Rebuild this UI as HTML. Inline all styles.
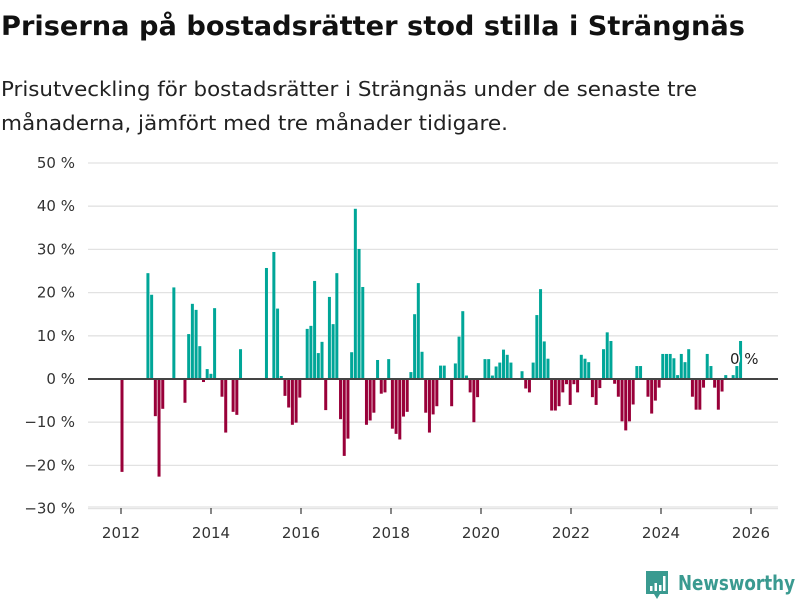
<!DOCTYPE html>
<html><head><meta charset="utf-8"><style>
html,body{margin:0;padding:0;background:#fff;}
svg{display:block;font-family:"DejaVu Sans","Liberation Sans",sans-serif;}
</style></head><body>
<svg id="chart" width="800" height="600" viewBox="0 0 800 600">
<text x="1" y="35" font-size="27" font-weight="bold" fill="#111" textLength="744" lengthAdjust="spacingAndGlyphs">Priserna på bostadsrätter stod stilla i Strängnäs</text>
<text x="1" y="96" font-size="20" fill="#222" textLength="696" lengthAdjust="spacingAndGlyphs">Prisutveckling för bostadsrätter i Strängnäs under de senaste tre</text>
<text x="1" y="130" font-size="20" fill="#222" textLength="507" lengthAdjust="spacingAndGlyphs">månaderna, jämfört med tre månader tidigare.</text>
<g id="grid"></g>
<g id="bars"></g>
<g id="axes"></g>
<text x="730" y="364" font-size="15" fill="#222" stroke="#fff" stroke-width="3" paint-order="stroke">0 %</text>
<g>
<path d="M646 571 h22 v23 h-8 l-3 5 l-3 -5 h-8 z" fill="#3a9a90"/>
<rect x="650" y="586" width="2.5" height="5" fill="#fff"/>
<rect x="654.5" y="583" width="2.5" height="8" fill="#fff"/>
<rect x="659" y="585" width="2.5" height="6" fill="#fff"/>
<rect x="663" y="576" width="2.5" height="15" fill="#fff"/>
<text x="678" y="590" font-size="20" font-weight="bold" fill="#3a9a90" textLength="117" lengthAdjust="spacingAndGlyphs">Newsworthy</text>
</g>
</svg>
<script>
const values = [
-21.5,0,0,0,0,0,0,24.5,19.5,-8.6,-22.6,-6.9,0,0,21.2,0,0,-5.5,10.4,17.4,
16,7.6,-0.7,2.3,1.2,16.4,0,-4.1,-12.4,0,-7.6,-8.3,6.9,0,0,0,0,0,0,25.7,
0,29.4,16.3,0.7,-3.9,-6.6,-10.6,-10.1,-4.3,0,11.6,12.3,22.7,6,8.6,-7.2,19,12.7,24.5,-9.3,
-17.8,-13.8,6.2,39.4,30.1,21.3,-10.6,-9.6,-7.8,4.4,-3.4,-3.1,4.6,-11.5,-12.7,-14,-8.7,-7.6,1.6,15,
22.2,6.3,-7.8,-12.4,-8.2,-6.3,3.1,3.1,0,-6.3,3.6,9.8,15.7,0.8,-3.1,-10,-4.2,0,4.6,4.6,
0.8,2.9,3.8,6.8,5.6,3.8,0,0,1.8,-2.2,-3.1,3.8,14.8,20.8,8.7,4.7,-7.3,-7.3,-6.3,-3.1,
-1.2,-6,-1.2,-3.1,5.6,4.7,3.9,-4.2,-6,-2.1,6.9,10.8,8.8,-1.1,-4.1,-9.8,-11.9,-9.8,-5.9,3,
3,0,-4.1,-8,-5,-2,5.8,5.8,5.8,4.8,0.9,5.8,3.9,6.9,-4.1,-7.1,-7.1,-2,5.8,3,
-2,-7.1,-2.9,0.9,0,0.9,3,8.8
];
const yTicks = [50,40,30,20,10,0,-10,-20,-30];
const yTickLabels = ["50 %","40 %","30 %","20 %","10 %","0 %","−10 %","−20 %","−30 %"];
const xYears = [2012,2014,2016,2018,2020,2022,2024,2026];
const xYearLabels = ["2012","2014","2016","2018","2020","2022","2024","2026"];

const NS="http://www.w3.org/2000/svg";
function y(v){ return 379 - v*4.32; }
function xYear(yr){ return 121 + (yr-2012)*45; }
function xIdx(i){ return 122 + i*3.704; }
function mk(tag, attrs){ const e=document.createElementNS(NS,tag); for(const k in attrs) e.setAttribute(k, attrs[k]); return e; }
const grid=document.getElementById('grid'), bars=document.getElementById('bars'), axes=document.getElementById('axes');
yTicks.forEach((t,k)=>{
  if(t!==0){
    const l=mk('line',{x1:88,x2:778,y1:y(t),y2:y(t),stroke:'#e2e2e2','stroke-width':1.3});
    
    
    grid.appendChild(l);
  }
  const tx=mk('text',{x:75,y:y(t)+5,'font-size':15,fill:'#333','text-anchor':'end'});
  
  
  tx.textContent=yTickLabels[k];
  axes.appendChild(tx);
});
values.forEach((v,i)=>{
  if(v===0) return;
  const top = v>0 ? y(v) : y(0);
  const h = Math.abs(y(v)-y(0));
  const r=mk('rect',{x:xIdx(i)-1.5,y:top,width:3,height:h,fill: v>0 ? '#00a698' : '#990039'});
  
  
  bars.appendChild(r);
});
const zl=mk('line',{x1:88,x2:778,y1:y(0),y2:y(0),stroke:'#444','stroke-width':2});


axes.appendChild(zl);
const bl=mk('line',{x1:88,x2:778,y1:507,y2:507,stroke:'#e2e2e2','stroke-width':1.3});


axes.appendChild(bl);
xYears.forEach((yr,k)=>{
  const t=mk('line',{x1:xYear(yr),x2:xYear(yr),y1:508,y2:514,stroke:'#444','stroke-width':1.3});
  
  
  axes.appendChild(t);
  const tx=mk('text',{x:xYear(yr),y:538,'font-size':15,fill:'#333','text-anchor':'middle'});
  
  
  tx.textContent=xYearLabels[k];
  axes.appendChild(tx);
});
</script>
</body></html>
